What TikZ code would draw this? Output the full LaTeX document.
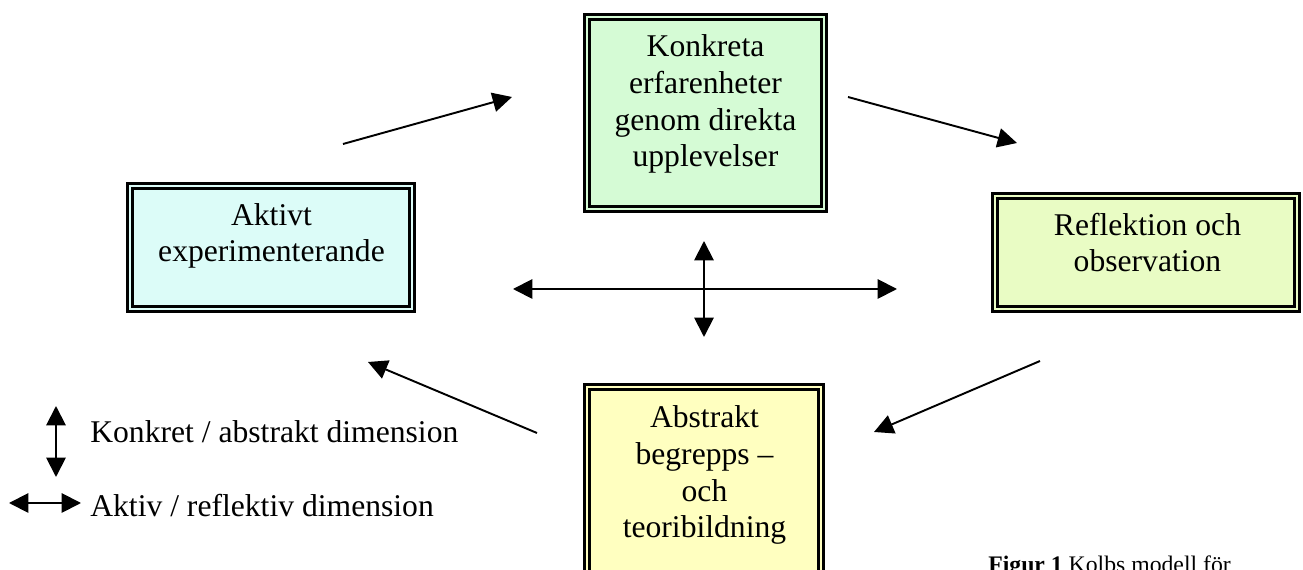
\documentclass[tikz,border=0pt]{standalone}
\usepackage{fontspec}
\setmainfont{Liberation Serif}
\usetikzlibrary{arrows.meta}

\definecolor{konkretfarg}{RGB}{213,251,213}
\definecolor{aktivfarg}{RGB}{220,252,248}
\definecolor{reflfarg}{RGB}{233,252,196}
\definecolor{abstrfarg}{RGB}{255,255,192}

\tikzset{
	boks/.style={draw, fill=#1, double=#1, line width=1.3pt, double distance=1.6pt, inner sep=0pt},
	boktext/.style={align=center, inner sep=0pt, anchor=base, font=\fontsize{18}{21}\selectfont},
	etikett/.style={inner sep=0pt, anchor=base west, font=\fontsize{18}{21}\selectfont},
	pil/.style={line width=1.1pt, -{Triangle[length=11pt,width=11pt]}},
	dubbelpil/.style={line width=1.1pt, {Triangle[length=11pt,width=11pt]}-{Triangle[length=11pt,width=11pt]}}
}

\begin{document}
\begin{tikzpicture}[x=0.02cm,y=-0.02cm]
	\useasboundingbox (0,0) rectangle (1303,570);
	\clip (0,0) rectangle (1303,570);
	
	% de fyra rutorna (texten sitter vid sista radens baslinje)
	\node[boks=konkretfarg, minimum width=4.74cm, minimum height=3.84cm] (konkret) at (705.5,113) {};
	\node[boktext] (konkrettext) at (705.5,167) {Konkreta\\erfarenheter\\genom direkta\\upplevelser};
	
	\node[boks=aktivfarg, minimum width=5.64cm, minimum height=2.46cm] (aktiv) at (271,247.5) {};
	\node[boktext] (aktivtext) at (271.5,262) {Aktivt\\experimenterande};
	
	\node[boks=reflfarg, minimum width=6.04cm, minimum height=2.26cm] (refl) at (1146,252.5) {};
	\node[boktext] (refltext) at (1147.5,272) {Reflektion och\\observation};
	
	\node[boks=abstrfarg, minimum width=4.68cm, minimum height=4.26cm] (abstr) at (704,493.5) {};
	\node[boktext] (abstrtext) at (704.5,538) {Abstrakt\\begrepps --\\och\\teoribildning};
	
	% cykelns pilar
	\coordinate (p1a) at (343,144);
	\coordinate (p1b) at (512,97);
	\coordinate (p2a) at (848,97);
	\coordinate (p2b) at (1017,143);
	\coordinate (p3a) at (1040,361);
	\coordinate (p3b) at (874,432);
	\coordinate (p4a) at (537,433);
	\coordinate (p4b) at (368,362);
	\draw[pil] (p1a) -- (p1b);
	\draw[pil] (p2a) -- (p2b);
	\draw[pil] (p3a) -- (p3b);
	\draw[pil] (p4a) -- (p4b);
	
	% korset i mitten
	\coordinate (korsV) at (513,289);
	\coordinate (korsH) at (897,289);
	\coordinate (korsO) at (704,241);
	\coordinate (korsN) at (704,337);
	\draw[dubbelpil] (korsV) -- (korsH);
	\draw[dubbelpil] (korsO) -- (korsN);
	
	% teckenforklaring
	\coordinate (legO) at (56,406);
	\coordinate (legN) at (56,477);
	\coordinate (legV) at (9,503);
	\coordinate (legH) at (81,503);
	\draw[dubbelpil] (legO) -- (legN);
	\draw[dubbelpil] (legV) -- (legH);
	\node[etikett] (legtext1) at (90,443) {Konkret / abstrakt dimension};
	\node[etikett] (legtext2) at (90,517) {Aktiv / reflektiv dimension};
	
	\node[inner sep=0pt, anchor=base west, font=\fontsize{13.5}{16}\selectfont] (figurtext) at (988,573) {\textbf{Figur 1} Kolbs modell för};
\end{tikzpicture}
\end{document}
